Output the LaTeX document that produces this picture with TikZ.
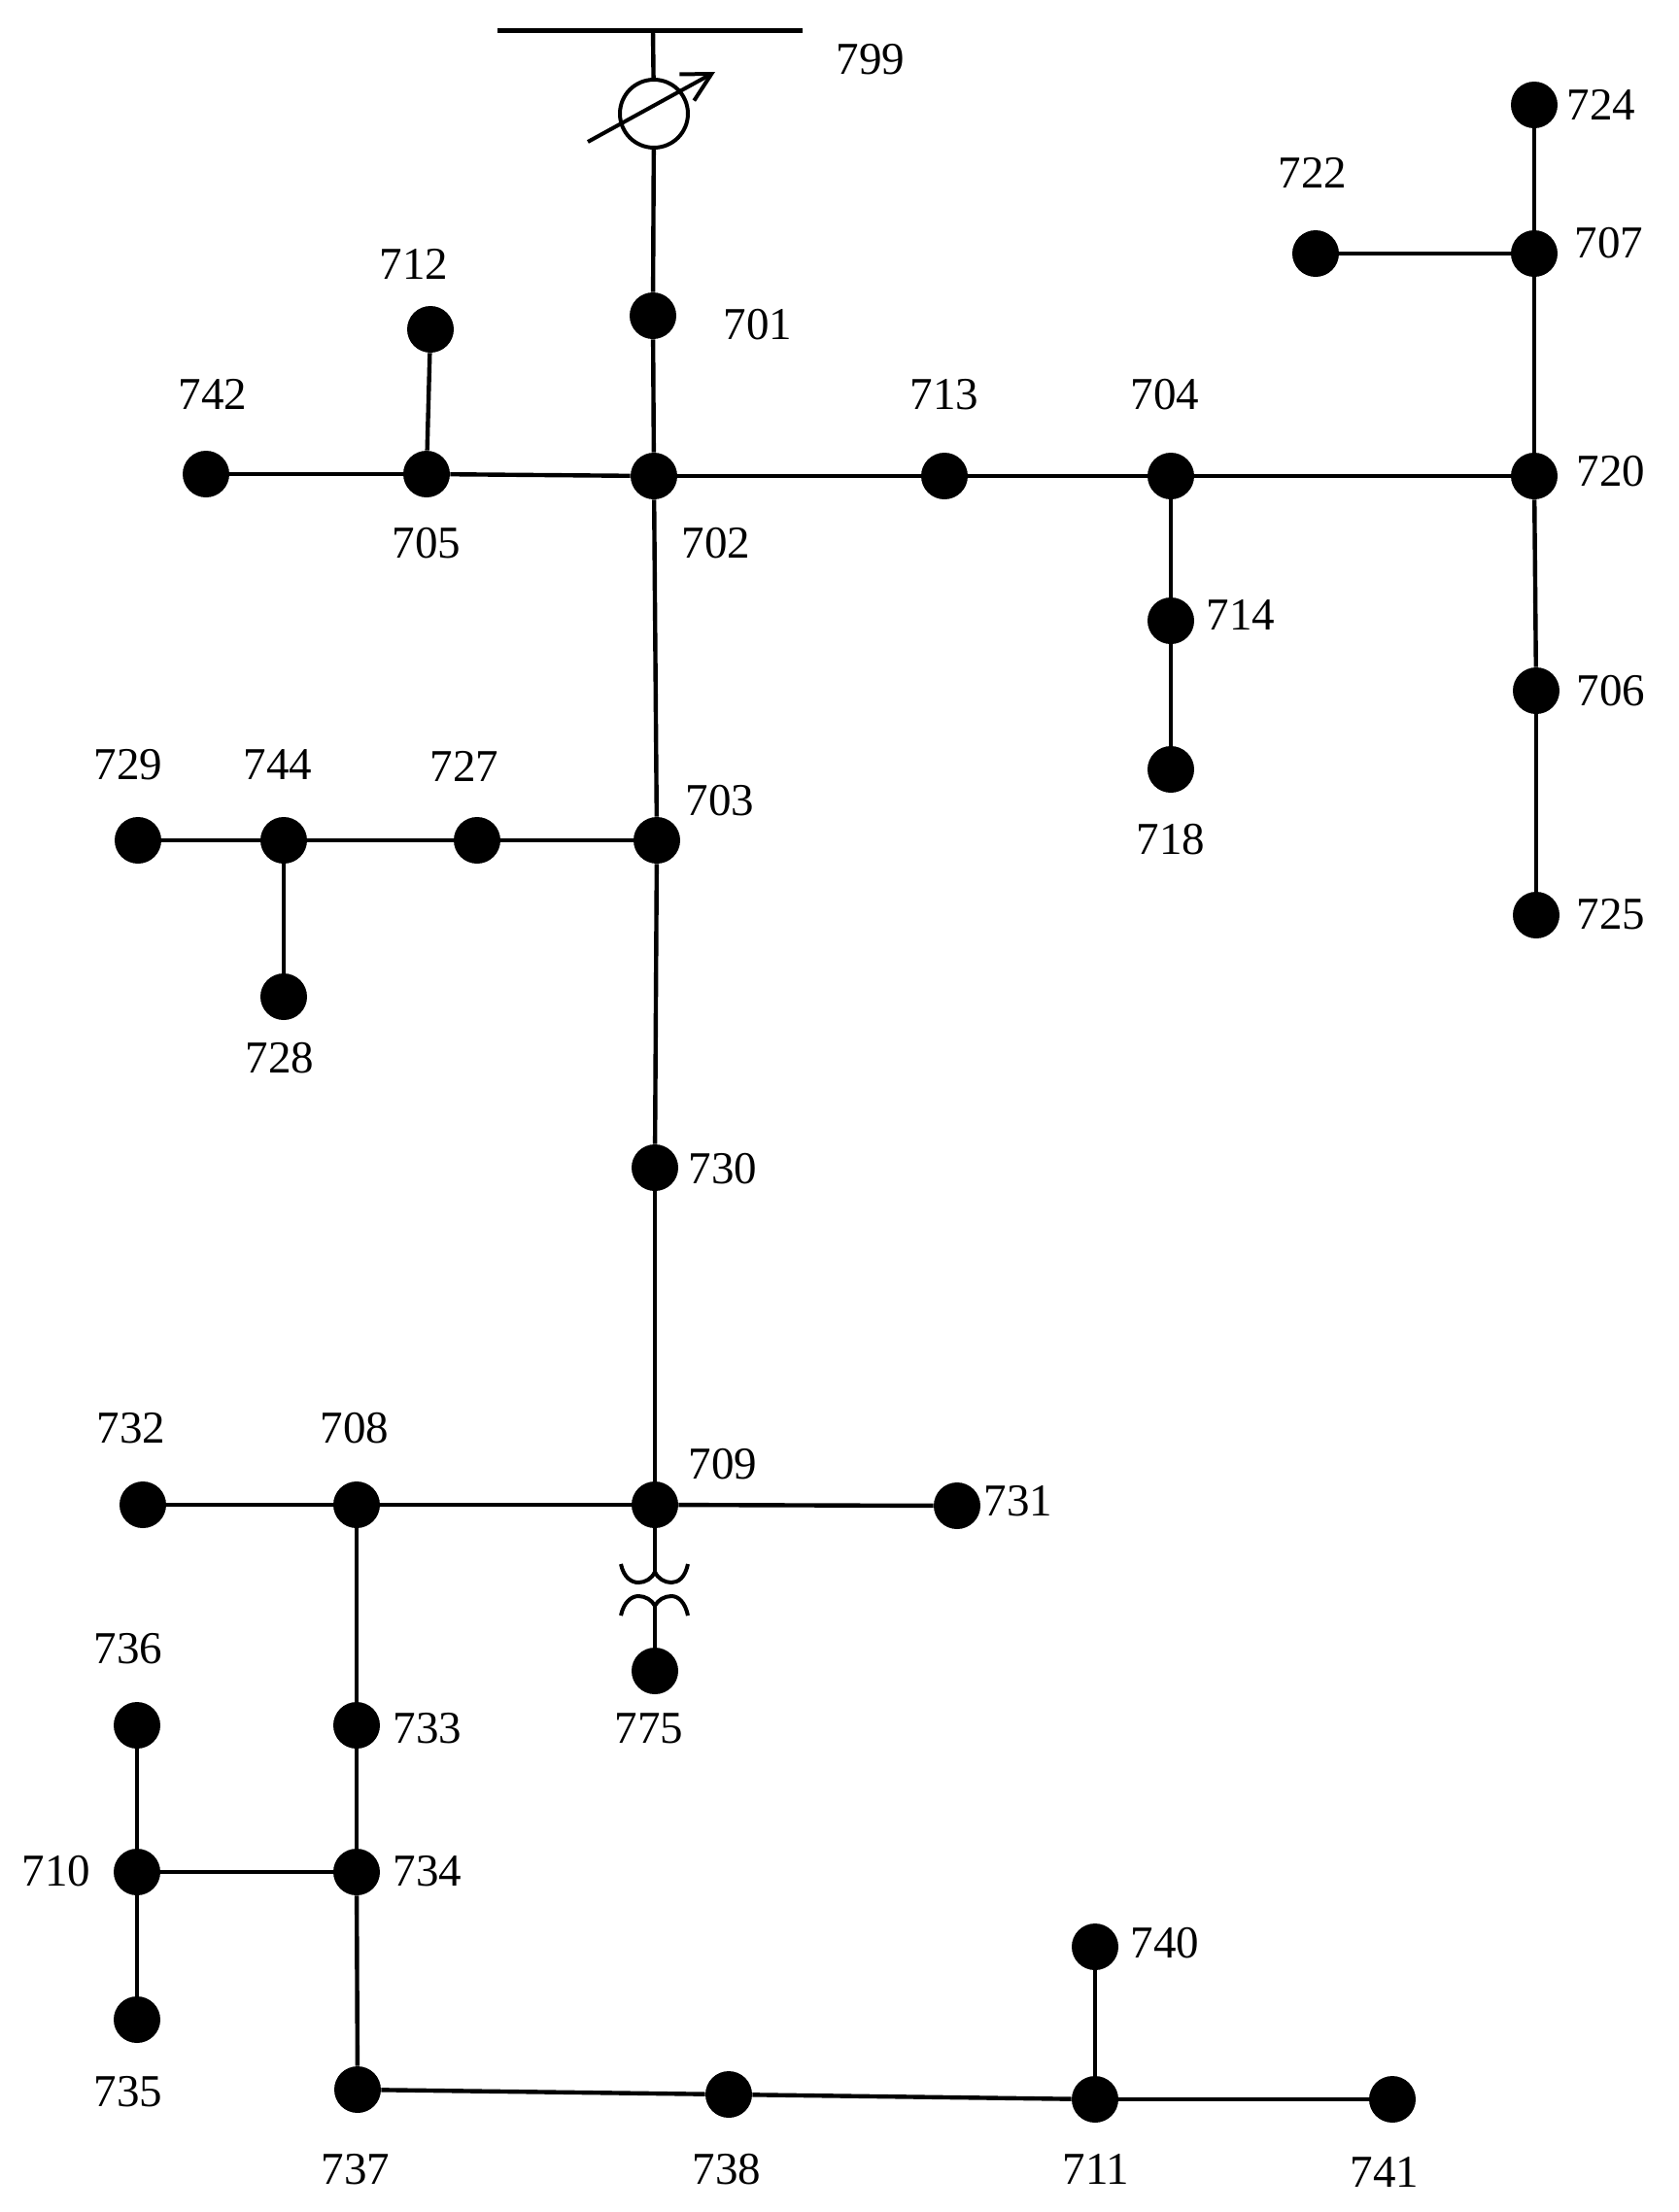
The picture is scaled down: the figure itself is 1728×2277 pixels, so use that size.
\documentclass[tikz,border=0pt]{standalone}
\usepackage{fontspec}
\setmainfont{Liberation Serif}
\usetikzlibrary{arrows.meta}
\tikzset{
  busnode/.style={circle,fill=black,draw=none,inner sep=0pt,minimum size=24pt},
  busname/.style={inner sep=0pt,outer sep=0pt,font=\fontsize{23.5}{26}\selectfont},
  feeder/.style={draw=black,line width=2.2pt},
}
\begin{document}
\begin{tikzpicture}[x=0.5pt,y=-0.5pt]
\path[use as bounding box,fill=white] (0,0) rectangle (1728,2277);

% substation
\coordinate (busL) at (512,31);
\coordinate (busR) at (826,31);
\coordinate (busTap) at (672,31);
\coordinate (arrowStart) at (605,146);
\coordinate (arrowEnd) at (736,74);
\node[circle,draw=black,line width=2pt,fill=white,inner sep=0pt,minimum size=35pt] (regulator) at (673,117) {};

% buses
\node[busnode] (n701) at (672,325) {};
\node[busnode] (n702) at (673,490) {};
\node[busnode] (n705) at (439,488) {};
\node[busnode] (n742) at (212,488) {};
\node[busnode] (n712) at (443,339) {};
\node[busnode] (n713) at (972,490) {};
\node[busnode] (n704) at (1205,490) {};
\node[busnode] (n720) at (1579,490) {};
\node[busnode] (n707) at (1579,261) {};
\node[busnode] (n724) at (1579,108) {};
\node[busnode] (n722) at (1354,261) {};
\node[busnode] (n714) at (1205,639) {};
\node[busnode] (n718) at (1205,792) {};
\node[busnode] (n706) at (1581,711) {};
\node[busnode] (n725) at (1581,942) {};
\node[busnode] (n703) at (676,865) {};
\node[busnode] (n727) at (491,865) {};
\node[busnode] (n744) at (292,865) {};
\node[busnode] (n729) at (142,865) {};
\node[busnode] (n728) at (292,1026) {};
\node[busnode] (n730) at (674,1202) {};
\node[busnode] (n709) at (674,1549) {};
\node[busnode] (n731) at (985,1550) {};
\node[busnode] (n708) at (367,1549) {};
\node[busnode] (n732) at (147,1549) {};
\node[busnode] (n775) at (674,1720) {};
\node[busnode] (n733) at (367,1776) {};
\node[busnode] (n734) at (367,1927) {};
\node[busnode] (n736) at (141,1776) {};
\node[busnode] (n710) at (141,1927) {};
\node[busnode] (n735) at (141,2079) {};
\node[busnode] (n737) at (368,2151) {};
\node[busnode] (n738) at (750,2156) {};
\node[busnode] (n711) at (1127,2161) {};
\node[busnode] (n741) at (1433,2161) {};
\node[busnode] (n740) at (1127,2004) {};

% substation connectors
\draw[black,line width=2.5pt] (busL) -- (busR);
\draw[feeder] (busTap) -- (regulator);
\draw[feeder] (regulator) -- (n701);
\draw[black,line width=2pt,-{Straight Barb[length=14.5pt,width=15.5pt]}] (arrowStart) -- (arrowEnd);

% lines
\draw[feeder] (n701) -- (n702);
\draw[feeder] (n702) -- (n705);
\draw[feeder] (n705) -- (n742);
\draw[feeder] (n705) -- (n712);
\draw[feeder] (n702) -- (n713);
\draw[feeder] (n713) -- (n704);
\draw[feeder] (n704) -- (n720);
\draw[feeder] (n720) -- (n707);
\draw[feeder] (n707) -- (n724);
\draw[feeder] (n707) -- (n722);
\draw[feeder] (n704) -- (n714);
\draw[feeder] (n714) -- (n718);
\draw[feeder] (n720) -- (n706);
\draw[feeder] (n706) -- (n725);
\draw[feeder] (n702) -- (n703);
\draw[feeder] (n703) -- (n727);
\draw[feeder] (n727) -- (n744);
\draw[feeder] (n744) -- (n729);
\draw[feeder] (n744) -- (n728);
\draw[feeder] (n703) -- (n730);
\draw[feeder] (n730) -- (n709);
\draw[feeder] (n709) -- (n731);
\draw[feeder] (n709) -- (n708);
\draw[feeder] (n708) -- (n732);
\draw[feeder] (n708) -- (n733);
\draw[feeder] (n733) -- (n734);
\draw[feeder] (n734) -- (n710);
\draw[feeder] (n710) -- (n736);
\draw[feeder] (n710) -- (n735);
\draw[feeder] (n734) -- (n737);
\draw[feeder] (n737) -- (n738);
\draw[feeder] (n738) -- (n711);
\draw[feeder] (n711) -- (n741);
\draw[feeder] (n711) -- (n740);

% transformer
\coordinate (coilTop) at (674,1618);
\coordinate (coilBot) at (674,1653);
\draw[feeder] (n709) -- (coilTop);
\draw[feeder] (n775) -- (coilBot);
\draw[black,line width=2pt] (639,1610) .. controls (642,1624) and (650,1629) .. (657,1629)
  .. controls (664,1629) and (671,1625) .. (coilTop)
  .. controls (677,1625) and (684,1629) .. (691,1629)
  .. controls (698,1629) and (705,1624) .. (708,1610);
\draw[black,line width=2pt] (639,1663) .. controls (642,1649) and (650,1643) .. (657,1643)
  .. controls (664,1643) and (671,1647) .. (coilBot)
  .. controls (677,1647) and (684,1643) .. (691,1643)
  .. controls (698,1643) and (705,1649) .. (708,1663);

% labels
\node[busname] (t799) at (896,61) {799};
\node[busname] (t701) at (780,334) {701};
\node[busname] (t712) at (426,272) {712};
\node[busname] (t742) at (219,406) {742};
\node[busname] (t713) at (972,406) {713};
\node[busname] (t704) at (1199,406) {704};
\node[busname] (t722) at (1351,178) {722};
\node[busname] (t724) at (1648,108) {724};
\node[busname] (t707) at (1656,250) {707};
\node[busname] (t720) at (1658,485) {720};
\node[busname] (t705) at (439,559) {705};
\node[busname] (t702) at (737,559) {702};
\node[busname] (t714) at (1277,633) {714};
\node[busname] (t718) at (1205,864) {718};
\node[busname] (t706) at (1658,711) {706};
\node[busname] (t725) at (1658,941) {725};
\node[busname] (t729) at (132,787) {729};
\node[busname] (t744) at (286,787) {744};
\node[busname] (t727) at (478,789) {727};
\node[busname] (t703) at (741,824) {703};
\node[busname] (t728) at (288,1089) {728};
\node[busname] (t730) at (744,1203) {730};
\node[busname] (t732) at (135,1470) {732};
\node[busname] (t708) at (365,1470) {708};
\node[busname] (t709) at (744,1507) {709};
\node[busname] (t731) at (1048,1545) {731};
\node[busname] (t775) at (668,1779) {775};
\node[busname] (t736) at (132,1697) {736};
\node[busname] (t733) at (440,1779) {733};
\node[busname] (t734) at (440,1926) {734};
\node[busname] (t710) at (58,1926) {710};
\node[busname] (t735) at (132,2153) {735};
\node[busname] (t737) at (366,2233) {737};
\node[busname] (t738) at (748,2233) {738};
\node[busname] (t711) at (1128,2233) {711};
\node[busname] (t741) at (1425,2236) {741};
\node[busname] (t740) at (1199,2000) {740};
\end{tikzpicture}
\end{document}
